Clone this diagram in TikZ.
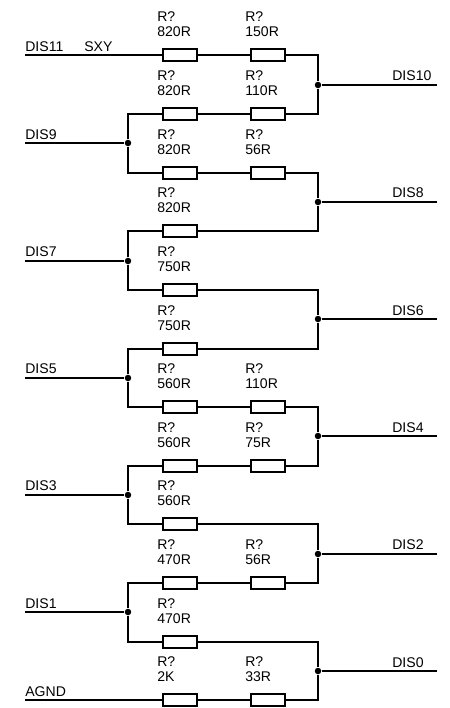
\documentclass[tikz,border=0pt]{standalone}
\usepackage{fontspec}
\setmainfont{Liberation Sans}
\tikzset{
  res/.style={draw, rectangle, fill=white, line width=0.95pt, minimum width=0.68cm, minimum height=0.24cm, inner sep=0pt},
  val/.style={anchor=south west, inner sep=0pt, align=left, font=\fontsize{8}{8.4}\selectfont},
  net/.style={anchor=base west, inner sep=0pt, font=\fontsize{8}{8.4}\selectfont},
  wire/.style={line width=0.95pt},
  dot/.style={circle, fill=black, inner sep=0pt, minimum size=0.13cm}
}

\begin{document}
\begin{tikzpicture}[x=0.02cm, y=-0.02cm]
\useasboundingbox (0,0) rectangle (450,708);

% Left nets
\coordinate (dis11) at (25,55);
\coordinate (dis9) at (25,143);
\coordinate (dis7) at (25,261);
\coordinate (dis5) at (25,378);
\coordinate (dis3) at (25,495);
\coordinate (dis1) at (25,612);
\coordinate (agnd) at (25,700);
\node[net] (dis11txt) at (25,51) {DIS11};
\node[net] (sxytxt) at (84,51) {SXY};
\node[net] (dis9txt) at (25,139) {DIS9};
\node[net] (dis7txt) at (25,256.5) {DIS7};
\node[net] (dis5txt) at (25,373.5) {DIS5};
\node[net] (dis3txt) at (25,490.5) {DIS3};
\node[net] (dis1txt) at (25,608) {DIS1};
\node[net] (agndtxt) at (25,696) {AGND};

% Right nets
\coordinate (dis10) at (437,85);
\coordinate (dis8) at (437,202);
\coordinate (dis6) at (437,319);
\coordinate (dis4) at (437,436);
\coordinate (dis2) at (437,554);
\coordinate (dis0) at (437,671);
\node[net] (dis10txt) at (392,80.5) {DIS10};
\node[net] (dis8txt) at (392,197.5) {DIS8};
\node[net] (dis6txt) at (392,315) {DIS6};
\node[net] (dis4txt) at (392,432) {DIS4};
\node[net] (dis2txt) at (392,549.5) {DIS2};
\node[net] (dis0txt) at (392,667) {DIS0};

% Junctions
\node[dot] (j9) at (128,143) {};
\node[dot] (j7) at (128,261) {};
\node[dot] (j5) at (128,378) {};
\node[dot] (j3) at (128,495) {};
\node[dot] (j1) at (128,612) {};
\node[dot] (j10) at (318,85) {};
\node[dot] (j8) at (318,202) {};
\node[dot] (j6) at (318,319) {};
\node[dot] (j4) at (318,436) {};
\node[dot] (j2) at (318,554) {};
\node[dot] (j0) at (318,671) {};

% Resistors
\node[res] (ra) at (180,55) {};
\node[res] (rb) at (268,55) {};
\node[res] (rc) at (180,114) {};
\node[res] (rd) at (268,114) {};
\node[res] (re) at (180,173) {};
\node[res] (rf) at (268,173) {};
\node[res] (rg) at (180,231) {};
\node[res] (rh) at (180,290) {};
\node[res] (ri) at (180,349) {};
\node[res] (rj) at (180,407) {};
\node[res] (rk) at (268,407) {};
\node[res] (rl) at (180,466) {};
\node[res] (rm) at (268,466) {};
\node[res] (rn) at (180,524) {};
\node[res] (ro) at (180,583) {};
\node[res] (rp) at (268,583) {};
\node[res] (rq) at (180,642) {};
\node[res] (rr) at (180,700) {};
\node[res] (rs) at (268,700) {};

% Values
\node[val] (vala) at (157,37) {R?\\820R};
\node[val] (valb) at (245,37) {R?\\150R};
\node[val] (valc) at (157,96) {R?\\820R};
\node[val] (vald) at (245,96) {R?\\110R};
\node[val] (vale) at (157,154.5) {R?\\820R};
\node[val] (valf) at (245,154.5) {R?\\56R};
\node[val] (valg) at (157,213) {R?\\820R};
\node[val] (valh) at (157,272) {R?\\750R};
\node[val] (vali) at (157,330.5) {R?\\750R};
\node[val] (valj) at (157,389) {R?\\560R};
\node[val] (valk) at (245,389) {R?\\110R};
\node[val] (vall) at (157,448) {R?\\560R};
\node[val] (valm) at (245,448) {R?\\75R};
\node[val] (valn) at (157,506) {R?\\560R};
\node[val] (valo) at (157,565) {R?\\470R};
\node[val] (valp) at (245,565) {R?\\56R};
\node[val] (valq) at (157,623.5) {R?\\470R};
\node[val] (valr) at (157,682) {R?\\2K};
\node[val] (vals) at (245,682) {R?\\33R};

% Wires into the left junctions
\draw[wire] (dis9) -- (j9);
\draw[wire] (dis7) -- (j7);
\draw[wire] (dis5) -- (j5);
\draw[wire] (dis3) -- (j3);
\draw[wire] (dis1) -- (j1);

% Wires out of the right junctions
\draw[wire] (j10) -- (dis10);
\draw[wire] (j8) -- (dis8);
\draw[wire] (j6) -- (dis6);
\draw[wire] (j4) -- (dis4);
\draw[wire] (j2) -- (dis2);
\draw[wire] (j0) -- (dis0);

% Resistor rows
\draw[wire] (dis11) -- (ra) -- (rb) -| (j10);
\draw[wire] (j9) |- (rc);
\draw[wire] (rc) -- (rd) -| (j10);
\draw[wire] (j9) |- (re);
\draw[wire] (re) -- (rf) -| (j8);
\draw[wire] (j7) |- (rg);
\draw[wire] (rg) -| (j8);
\draw[wire] (j7) |- (rh);
\draw[wire] (rh) -| (j6);
\draw[wire] (j5) |- (ri);
\draw[wire] (ri) -| (j6);
\draw[wire] (j5) |- (rj);
\draw[wire] (rj) -- (rk) -| (j4);
\draw[wire] (j3) |- (rl);
\draw[wire] (rl) -- (rm) -| (j4);
\draw[wire] (j3) |- (rn);
\draw[wire] (rn) -| (j2);
\draw[wire] (j1) |- (ro);
\draw[wire] (ro) -- (rp) -| (j2);
\draw[wire] (j1) |- (rq);
\draw[wire] (rq) -| (j0);
\draw[wire] (agnd) -- (rr) -- (rs) -| (j0);
\end{tikzpicture}
\end{document}
